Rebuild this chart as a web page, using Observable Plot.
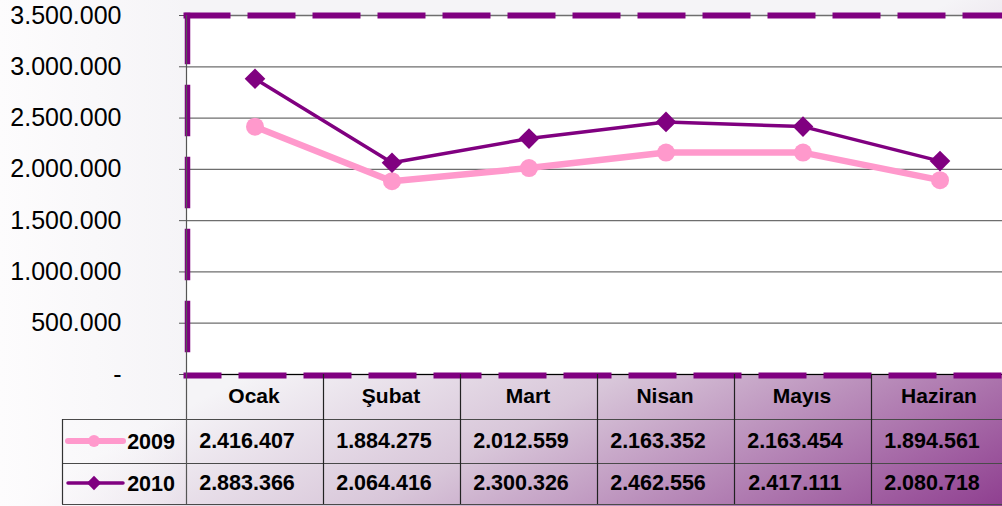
<!DOCTYPE html>
<html>
<head>
<meta charset="utf-8">
<script src="https://cdn.jsdelivr.net/npm/d3@7"></script>
<script src="https://cdn.jsdelivr.net/npm/@observablehq/plot@0.6"></script>
<style>
  html, body { margin: 0; padding: 0; background: #f8f7f9; }
  #chart svg { display: block; }
</style>
</head>
<body>
<div id="chart"></div>
<script>
// ---- data ----
const months = ["Ocak", "Şubat", "Mart", "Nisan", "Mayıs", "Haziran"];
const years = ["2009", "2010"];
const values2009 = [2416407, 1884275, 2012559, 2163352, 2163454, 1894561];
const values2010 = [2883366, 2064416, 2300326, 2462556, 2417111, 2080718];
const yTicks = [0, 500000, 1000000, 1500000, 2000000, 2500000, 3000000, 3500000];

const colors = {"2009": "#ff99cc", "2010": "#800080"};

const data = months.flatMap((m, i) => [
  {month: m, year: "2009", value: values2009[i]},
  {month: m, year: "2010", value: values2010[i]}
]);
const d2009 = data.filter(d => d.year === "2009");
const d2010 = data.filter(d => d.year === "2010");

const loc = d3.formatLocale({decimal: ",", thousands: ".", grouping: [3], currency: ["", ""]});
const fmt = loc.format(",d");

const W = 1002, H = 506;
const rowDy = {header: 22, "2009": 67, "2010": 109};

const chart = Plot.plot({
  width: W,
  height: H,
  marginLeft: 186,
  marginRight: -6,
  marginTop: 15,
  marginBottom: 132,
  style: {background: "transparent", fontFamily: "Liberation Sans, Arial, sans-serif", overflow: "visible"},
  x: {type: "band", domain: months, padding: 0, axis: null},
  y: {domain: [0, 3500000], axis: null},
  marks: [
    Plot.gridY(yTicks, {stroke: "#6e6e6e", strokeOpacity: 1, strokeWidth: 1.3}),
    Plot.axisY(yTicks, {
      tickSize: 7, tickPadding: 58, stroke: "#555", fontSize: 25, fill: "#000",
      tickFormat: d => d === 0 ? "-" : fmt(d), label: null
    }),
    Plot.ruleY([0], {stroke: "#000", strokeWidth: 1.2}),
    Plot.frame({anchor: "top", stroke: "#800080", strokeWidth: 6, strokeDasharray: "42,23", strokeDashoffset: 1}),
    Plot.frame({anchor: "left", stroke: "#800080", strokeWidth: 5.5, strokeDasharray: "46,26", strokeDashoffset: 0, dx: 1}),
    Plot.frame({anchor: "bottom", stroke: "#800080", strokeWidth: 6, strokeDasharray: "42,23", strokeDashoffset: 10, dy: 1}),
    Plot.line(d2009, {x: "month", y: "value", stroke: colors["2009"], strokeWidth: 6.5}),
    Plot.line(d2010, {x: "month", y: "value", stroke: colors["2010"], strokeWidth: 3.5}),
    Plot.dot(d2009, {x: "month", y: "value", r: 9, fill: colors["2009"], symbol: "circle"}),
    Plot.dot(d2010, {x: "month", y: "value", r: 9.3, fill: colors["2010"], symbol: "diamond2"}),
    // data table
    Plot.text(months, {x: d => d, y: () => 0, dy: rowDy.header, dx: -1, text: d => d, fontSize: 21, fontWeight: "bold", fill: "#000"}),
    Plot.text(d2009, {x: "month", y: () => 0, dy: rowDy["2009"], dx: -8, text: d => fmt(d.value), fontSize: 21.5, fontWeight: "bold", fill: "#000"}),
    Plot.text(d2010, {x: "month", y: () => 0, dy: rowDy["2010"], dx: -8, text: d => fmt(d.value), fontSize: 21.5, fontWeight: "bold", fill: "#000"})
  ]
});

document.getElementById("chart").append(chart);

// ---- decorations using the chart's scales ----
const svg = d3.select(chart);
const xs = chart.scale("x");
const ys = chart.scale("y");
const x0 = xs.range[0];
const step = xs.step;
const yTop = ys.apply(3500000);
const yZero = ys.apply(0);
const rowBottoms = [yZero + 45, yZero + 89, yZero + 130];
const tableLeft = 62;

// background gradient + white plot area
const defs = svg.insert("defs", ":first-child");
const grad = defs.append("linearGradient").attr("id", "bgGrad")
  .attr("gradientUnits", "userSpaceOnUse")
  .attr("x1", 781).attr("y1", 91).attr("x2", 1057).attr("y2", 610);
grad.append("stop").attr("offset", 0).attr("stop-color", "#f5f4f7");
grad.append("stop").attr("offset", 0.3).attr("stop-color", "#d8c6d9");
grad.append("stop").attr("offset", 0.8).attr("stop-color", "#8f3f90");
grad.append("stop").attr("offset", 1).attr("stop-color", "#7a1a7c");
const lgrad = defs.append("linearGradient").attr("id", "leftGrad")
  .attr("x1", 0).attr("y1", 0).attr("x2", 1).attr("y2", 0);
lgrad.append("stop").attr("offset", 0).attr("stop-color", "#fdfcfd");
lgrad.append("stop").attr("offset", 1).attr("stop-color", "#fdfcfd").attr("stop-opacity", 0);

const bg = svg.insert("g", "defs + *");
bg.append("rect").attr("width", W).attr("height", H).attr("fill", "url(#bgGrad)");
bg.append("rect").attr("width", 190).attr("height", H).attr("fill", "url(#leftGrad)");
bg.append("rect").attr("x", x0).attr("y", yTop).attr("width", W - x0).attr("height", yZero - yTop).attr("fill", "#fff");

// table lines
const tbl = svg.append("g").attr("fill", "none");
rowBottoms.forEach(yb => {
  tbl.append("line").attr("x1", tableLeft).attr("x2", W).attr("y1", yb + 0.5).attr("y2", yb + 0.5)
    .attr("stroke", "#4a4a4a").attr("stroke-width", 1.2);
});
tbl.append("line").attr("x1", tableLeft + 0.5).attr("x2", tableLeft + 0.5)
  .attr("y1", rowBottoms[0]).attr("y2", rowBottoms[2]).attr("stroke", "#333").attr("stroke-width", 1.2);
tbl.append("line").attr("x1", x0 + 0.5).attr("x2", x0 + 0.5)
  .attr("y1", yTop).attr("y2", rowBottoms[2]).attr("stroke", "#555").attr("stroke-width", 1.2);
months.slice(1).forEach((m, i) => {
  const xb = x0 + (i + 1) * step;
  tbl.append("line").attr("x1", xb + 0.5).attr("x2", xb + 0.5)
    .attr("y1", yZero).attr("y2", rowBottoms[2]).attr("stroke", "#222").attr("stroke-width", 1.2);
});
svg.selectAll("g[aria-label='frame']").raise();
svg.selectAll("g[aria-label='line'], g[aria-label='dot']").raise();

// legend keys + year labels in the table
const rowCenters = {"2009": yZero + rowDy["2009"], "2010": yZero + rowDy["2010"]};
const leg = svg.append("g");
years.forEach(y => {
  const cy = rowCenters[y];
  leg.append("line").attr("x1", 68).attr("x2", 123).attr("y1", cy).attr("y2", cy)
    .attr("stroke", colors[y]).attr("stroke-width", y === "2009" ? 6 : 3.5).attr("stroke-linecap", "round");
  const sym = d3.symbol(y === "2009" ? d3.symbolCircle : d3.symbolDiamond2, y === "2009" ? 110 : 130);
  leg.append("path").attr("d", sym()).attr("transform", `translate(94,${cy})`).attr("fill", colors[y]);
  leg.append("text").attr("x", 175).attr("y", cy).attr("dy", "0.35em").attr("text-anchor", "end")
    .attr("font-size", 21.5).attr("font-weight", "bold").attr("fill", "#000").text(y);
});
</script>
</body>
</html>
